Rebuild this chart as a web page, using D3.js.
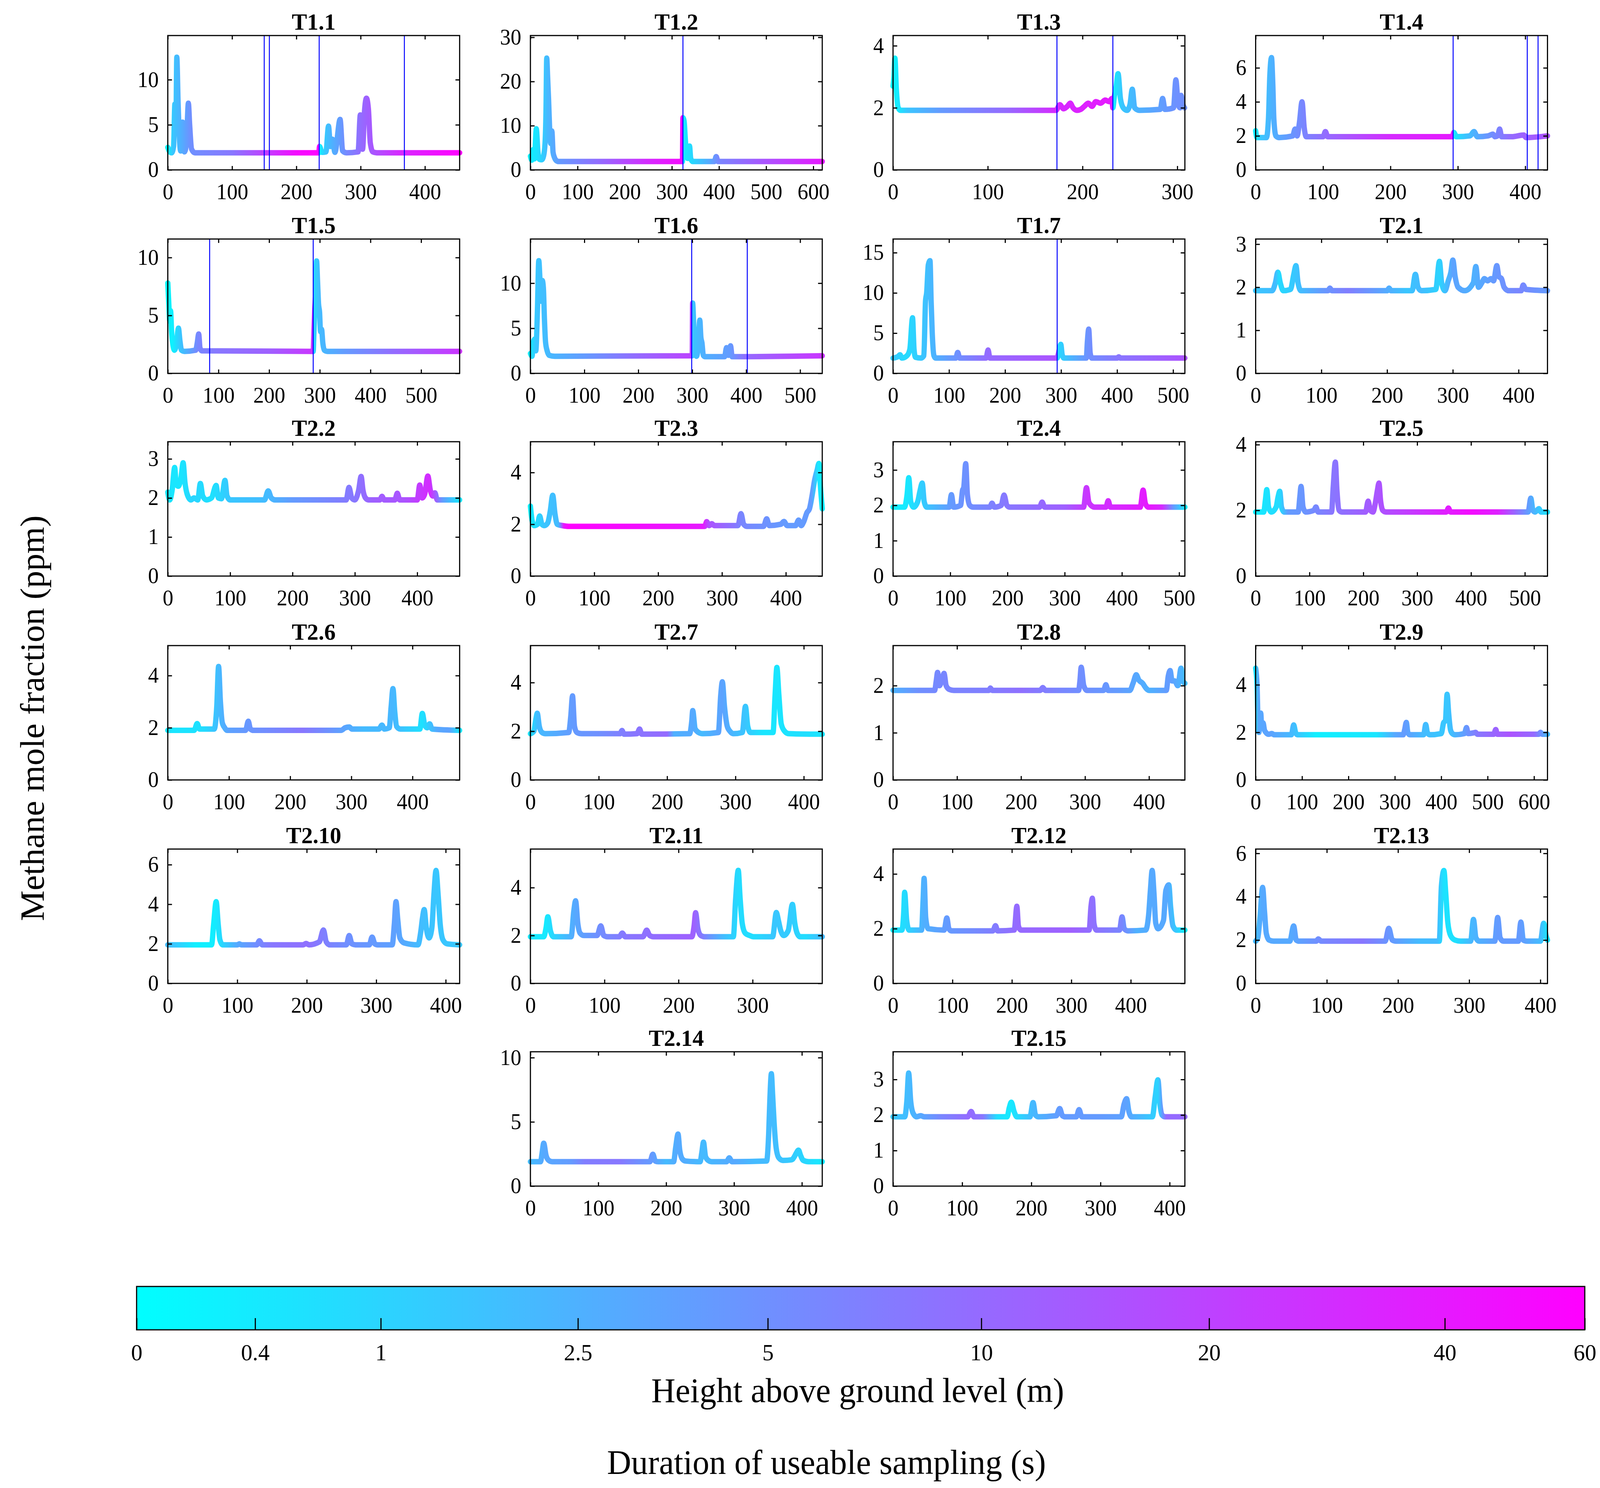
<!DOCTYPE html>
<html>
<head>
<meta charset="utf-8">
<script src="https://cdn.jsdelivr.net/npm/d3@7"></script>
<style>
  html, body { margin: 0; padding: 0; background: #fff; overflow: hidden; }
  svg { display: block; }
  text { font-family: "Liberation Serif", "Times New Roman", serif; fill: #000; }
</style>
</head>
<body>
<script>
// titels van de 22 metingen
const panelNames = ['T1.1', 'T1.2', 'T1.3', 'T1.4', 'T1.5', 'T1.6', 'T1.7',
    'T2.1', 'T2.2', 'T2.3', 'T2.4', 'T2.5', 'T2.6', 'T2.7', 'T2.8', 'T2.9',
    'T2.10', 'T2.11', 'T2.12', 'T2.13', 'T2.14', 'T2.15'];

// bereik van de assen (s en ppm)
const xMax = [454, 619, 308, 433, 576, 541, 521, 444, 468, 457, 510, 542, 477, 427, 456, 629, 420, 394, 491, 410, 430, 422];
const yMax = [14.9, 30.4, 4.33, 7.9, 11.6, 14.9, 16.7, 3.12, 3.44, 5.19, 3.8, 4.09, 5.15, 5.52, 2.85, 5.65, 6.79, 5.61, 4.91, 6.2, 10.46, 3.78];
const yStep = [5, 10, 2, 2, 5, 5, 5, 1, 1, 2, 1, 2, 2, 2, 1, 2, 2, 2, 2, 2, 5, 1];

// blauwe verticale lijnen (s)
const markerLines = [[150, 158, 235.5, 368], [323.5], [173, 232], [293, 403, 419], [82.6, 287], [299, 402], [293],
    [], [], [], [], [], [], [], [], [], [], [], [], [], [], []];

// methaan (ppm) tegen tijd (s)
const ppmSeries = [
    [[0,2.5],[3,2.0],[6,1.9],[9,2.6],[11,7.3],[12.5,4.2],[14,12.5],[16,7.5],[18,3.6],[20,2.1],[23,5.3],[26,2.0],[29,3.0],[32,7.4],[34,5.0],[37,2.3],[42,1.9],[235,1.9],[236,2.6],[240,1.95],[246,2.0],[250,4.85],[253,2.6],[256,3.4],[260,1.95],[268,5.6],[272,2.1],[278,1.9],[296,2.0],[299.5,6.1],[303,2.3],[306,6.5],[309,7.95],[312,6.8],[315,3.0],[319,2.0],[325,1.9],[454,1.9]],
    [[0,3.1],[3,2.2],[6,4.6],[8.5,2.5],[12.5,9.3],[16,4],[19,2.4],[24,2.3],[28,3.2],[31,6],[33,13],[34.6,25.3],[36.5,21],[38.5,16],[40.5,10],[43,6],[45.5,8.8],[48,4],[51,2.8],[55,2.1],[60,1.9],[322.5,1.9],[323.5,11.8],[326,11],[328.5,7],[331,3.5],[333.5,2.6],[336,4],[337.5,5.4],[340,2.6],[344,1.9],[390,1.9],[394,3.0],[398,1.9],[619,1.9]],
    [[0,2.7],[1,3.0],[2,3.6],[3.5,2.6],[5.5,2.0],[8,1.92],[172,1.92],[176,2.1],[180,1.97],[184,2.05],[187,2.15],[190,2.0],[194,1.92],[198,1.95],[202,2.05],[206,2.15],[210,2.05],[214,2.2],[219,2.15],[224,2.25],[228,2.2],[231,2.3],[232,2.0],[233.5,2.35],[235.5,2.7],[237.5,3.1],[240,2.3],[243,2.0],[247,1.92],[250,2.1],[252.5,2.6],[255,2.0],[260,1.92],[282,1.95],[284.5,2.3],[287,1.95],[296,2.0],[298.5,2.9],[301,2.1],[303,2.0],[304,2.4],[306,2.1],[307.7,2.0]],
    [[0,2.3],[2,1.9],[16,1.9],[19,3],[21,5.5],[23.5,6.6],[25.5,5],[27,3],[30,2.0],[35,1.9],[55,2.0],[58.5,2.4],[61.5,2.0],[65,2.8],[68.8,4.0],[72,2.5],[75,1.95],[100,1.95],[103.5,2.25],[107,1.95],[292,1.95],[294,2.2],[298,1.95],[318,2.0],[324,2.25],[329,1.95],[345,2.0],[352,2.1],[355,1.95],[359,2.0],[362,2.4],[365,1.95],[380,1.95],[398,2.05],[401,1.9],[433,2.0]],
    [[0,7.8],[2,6],[4,4.5],[5.5,5.4],[7.5,3.6],[10,2.5],[13,2.0],[17,2.5],[21,3.9],[24,2.8],[27,2.0],[33,1.9],[55,2.0],[58,2.6],[61,3.4],[63.5,2.2],[67,1.95],[287,1.9],[288,3.0],[290,5.5],[292,7],[293.7,9.7],[295.5,8],[297.5,6],[299.5,5.3],[301.5,3.6],[303.5,3.8],[306,2.6],[309,2.0],[315,1.9],[576,1.9]],
    [[0,2.2],[3,1.9],[5.5,3.5],[8,3.8],[10,2.5],[13,7],[15.5,12.5],[18,10],[20,8],[22,10.3],[24,9.5],[26,6],[28,3.5],[31,2.5],[35,2.0],[45,1.9],[300,1.95],[300.7,7.8],[303,5],[305.5,2.5],[308,1.9],[311,3],[314,5.9],[316,4],[318,3.4],[320.5,2],[324,1.85],[360,1.85],[363.5,2.85],[367,2.0],[371,3.05],[374,1.85],[541,1.95]],
    [[0,1.9],[9,2.1],[12.5,2.3],[16,1.9],[25,2.2],[30,3],[34.8,6.9],[37.5,3],[40,2],[50,1.9],[55,2.2],[58,9],[60,10],[63,13.5],[66,14],[68,9],[70,5],[73,2.2],[76,1.9],[112,1.9],[115.5,2.6],[119,1.9],[166,1.9],[169.7,2.9],[173,1.9],[293,1.9],[295,2.4],[299.5,3.6],[302,2.3],[305,1.9],[345,1.9],[347,4],[349.3,5.5],[352,2.5],[355,1.9],[400,1.9],[403,2.05],[406,1.9],[521,1.9]],
    [[0,1.92],[25,1.92],[30,2.1],[33.8,2.35],[37.5,2.1],[42,1.92],[53,1.95],[58,2.3],[61.3,2.5],[64.5,2.1],[69,1.92],[110,1.92],[113,1.98],[116,1.92],[200,1.92],[203,1.98],[206,1.92],[238,1.92],[243,2.3],[247,2.0],[252,1.92],[274,1.95],[279.6,2.6],[283,2.1],[288,1.92],[293,2.15],[297,2.35],[300,2.63],[303.5,2.25],[308,2.0],[318,1.92],[331,2.1],[335,2.48],[339,2.0],[344,2.1],[348,2.2],[353,2.15],[358,2.2],[362,2.15],[366.9,2.5],[370,2.25],[374,2.2],[378,2.0],[385,1.92],[404,1.92],[407,2.05],[411,1.95],[444,1.92]],
    [[0,2.15],[3,1.95],[7,2.2],[11,2.78],[13.5,2.35],[17,2.3],[21,2.5],[24.6,2.9],[27.5,2.4],[31,2.1],[37,1.95],[42,2.0],[48,1.95],[52.2,2.37],[56,2.05],[62,1.95],[70,2.0],[77.5,2.32],[81,2.0],[86,1.98],[91.7,2.45],[95,2.05],[100,1.95],[155,1.95],[161,2.18],[166,2.0],[172,1.95],[286,1.95],[290.6,2.27],[295,2.0],[300,1.95],[306,2.2],[310,2.55],[313,2.2],[317,2.0],[322,1.95],[340,1.95],[343.5,2.04],[347,1.95],[364,1.95],[368,2.12],[372,1.95],[400,1.95],[404,2.33],[408,2.0],[412,2.1],[417,2.56],[421,2.2],[425,2.05],[428.5,2.13],[432,1.95],[468,1.95]],
    [[0,2.7],[3,2.1],[6,1.95],[11,2.0],[14.5,2.32],[18,2.0],[22,1.95],[27,2.05],[31,2.5],[34.9,3.12],[38.5,2.4],[42,2.0],[50,1.95],[60,1.92],[273,1.92],[276,2.1],[280,1.95],[284,2.02],[288,1.95],[325,1.95],[329.7,2.41],[334,2.0],[339,1.92],[365,1.92],[370,2.21],[374,1.95],[392,2.0],[397,2.11],[402,1.95],[415,1.95],[420,2.16],[424,1.95],[428,2.1],[433,2.45],[437,2.6],[441,3.1],[445,3.7],[449,4.1],[451.7,4.35],[454,3.5],[457,2.6]],
    [[0,1.95],[20,1.95],[24.5,2.3],[27.5,2.78],[31,2.1],[36,1.95],[43,2.1],[47,2.4],[51,2.63],[54.5,2.1],[59,1.95],[98,1.95],[102,2.3],[106,1.95],[118,2.0],[121.5,2.43],[123.5,2.5],[127,3.18],[130,2.3],[134,2.0],[140,1.95],[169,1.95],[173,2.06],[177,1.95],[189,2.0],[194,2.29],[199,2.0],[204,1.95],[256,1.95],[260.5,2.09],[265,1.95],[333,1.95],[338,2.5],[342,2.1],[346,2.0],[352,1.95],[372,1.95],[376,2.13],[380,1.95],[432,1.95],[437,2.43],[441,2.05],[446,1.95],[510,1.95]],
    [[0,1.95],[15,1.95],[18,2.3],[20.7,2.63],[24,2.1],[29,1.95],[38,2.1],[41.5,2.4],[44.8,2.58],[48,2.1],[53,1.95],[79,1.95],[82,2.4],[84.3,2.73],[88,2.1],[93,1.95],[108,2.0],[112,2.1],[116,1.95],[141,1.95],[144,2.7],[148,3.47],[151,2.6],[155,2.0],[160,1.95],[204,1.95],[209,2.28],[213,2.0],[218,1.95],[222,2.2],[226,2.6],[229,2.83],[232,2.3],[236,2.0],[242,1.95],[354,1.95],[358,2.07],[362,1.95],[506,1.95],[511,2.37],[515,2.0],[519,1.95],[526,2.05],[530,1.95],[542,1.95]],
    [[0,1.9],[43,1.9],[48,2.16],[52,1.95],[76,1.95],[80,2.8],[83,4.35],[86,3.0],[89,2.2],[93,2.0],[97,1.9],[127,1.9],[131.6,2.25],[135,1.95],[140,1.9],[283,1.9],[290,2.0],[296.6,2.03],[301,1.95],[345,1.95],[350,2.1],[354,1.95],[362,2.0],[365,2.8],[368,3.5],[371,2.6],[374,2.05],[380,1.95],[412,1.95],[416,2.55],[420,2.1],[424,2.0],[428,2.15],[432,1.95],[477,1.9]],
    [[0,1.9],[5,2.0],[8,2.5],[10,2.74],[13,2.2],[17,1.95],[22,1.9],[56,1.95],[59,2.6],[61.6,3.45],[64.5,2.2],[68,1.95],[75,1.9],[131,1.9],[134,2.03],[137,1.88],[156,1.9],[159.7,2.09],[163,1.88],[233,1.9],[236,2.4],[237.5,2.85],[241,2.1],[246,1.95],[252,1.9],[275,1.95],[278.5,3.5],[280.8,4.03],[284,3.0],[288,2.2],[292,2.0],[297,1.9],[310,1.95],[314.6,3.02],[318,2.2],[322,1.95],[355,1.95],[358,3.5],[360.6,4.62],[363.5,3.5],[367,2.3],[372,2.0],[378,1.9],[427,1.88]],
    [[0,1.9],[65,1.9],[67.5,2.1],[69.6,2.28],[72.5,2.0],[76,2.1],[79.7,2.26],[83,2.0],[88,1.92],[95,1.9],[150,1.9],[152,1.95],[155,1.9],[230,1.9],[234,1.96],[238,1.9],[290,1.9],[292,2.1],[294,2.39],[298,2.0],[303,1.9],[329,1.9],[332.6,2.02],[336,1.9],[370,1.9],[375,2.05],[380,2.23],[384,2.12],[390,2.05],[395,1.95],[400,1.9],[427,1.9],[430,2.2],[433,2.32],[436,2.1],[440,2.1],[445,2.0],[450,2.37],[453,2.1],[456,2.05]],
    [[0,4.7],[3,4.0],[5,2.5],[7,2.0],[9,2.4],[11,2.81],[13,2.2],[16,2.4],[19,2.1],[22,2.0],[28,1.92],[35,1.95],[40,1.9],[77,1.9],[82,2.31],[86,2.0],[90,1.9],[318,1.9],[321,2.1],[324.7,2.42],[328,2.0],[332,1.9],[362,1.9],[366.6,2.33],[370,2.0],[375,1.9],[400,1.95],[405,2.4],[409,2.5],[412.6,3.6],[416,2.8],[420,2.1],[424,1.95],[430,1.9],[450,1.95],[454.5,2.2],[458,1.95],[470,1.98],[474,2.0],[478,1.92],[513,1.92],[517.5,2.12],[521,1.92],[610,1.92],[614,2.0],[618,1.92],[629,1.92]],
    [[0,1.95],[63,1.95],[66,3.0],[69.6,4.13],[72.5,3.0],[75,2.2],[79,1.95],[100,1.95],[103,2.0],[106,1.95],[128,1.95],[131.8,2.15],[136,1.95],[195,1.95],[199,2.02],[203,1.95],[218,2.1],[224,2.7],[228,2.1],[233,1.95],[257,1.95],[261,2.42],[265,2.0],[270,1.95],[290,1.95],[294,2.34],[298,2.0],[302,1.95],[323,1.95],[326,3.0],[328.4,4.13],[331,3.2],[334,2.3],[340,2.05],[360,1.95],[364,2.6],[366.5,3.3],[369,3.73],[372,2.8],[376,2.3],[380,2.8],[383,4.5],[386,5.71],[389,4.5],[392,3.0],[396,2.2],[402,2.0],[420,1.95]],
    [[0,1.95],[18,1.95],[21,2.3],[23.5,2.78],[27,2.2],[31,1.95],[55,1.95],[58.5,3.0],[61,3.45],[64,2.5],[67,2.1],[72,2.0],[90,2.0],[95,2.4],[99,2.0],[104,1.95],[120,1.95],[124,2.1],[128,1.95],[152,1.95],[157,2.22],[161,2.0],[166,1.95],[218,1.95],[221,2.4],[223,2.95],[226,2.3],[230,2.0],[235,1.95],[274,1.95],[277,3.5],[280.6,4.72],[283,3.6],[286,2.5],[290,2.1],[296,2.0],[301,1.95],[327,1.95],[332,2.96],[335,2.6],[338,2.2],[342,2.0],[348,2.2],[353.7,3.3],[357,2.5],[360,2.1],[364,1.95],[394,1.95]],
    [[0,1.95],[15,1.95],[18,2.6],[19.5,3.33],[23,2.3],[27,1.95],[48,1.95],[50.5,3.0],[52.3,3.84],[55,2.4],[59,2.0],[86,1.95],[90.5,2.39],[94,2.0],[98,1.92],[168,1.92],[172.4,2.11],[176,1.92],[204,1.95],[208.3,2.82],[211,2.1],[215,1.95],[330,1.95],[333,2.8],[335.4,3.11],[338,2.2],[342,1.95],[381,1.95],[385.3,2.43],[389,2.0],[395,1.92],[425,1.95],[430,2.5],[433,3.4],[436,4.13],[439,3.3],[442,2.2],[446,2.0],[455,2.3],[459,3.4],[464,3.6],[467,2.8],[471,2.1],[477,1.95],[491,1.95]],
    [[0,1.95],[3,2.1],[6,3.0],[9.8,4.43],[12.5,3.3],[15,2.3],[19,2.0],[25,1.95],[48,1.95],[53.4,2.65],[57,2.0],[61,1.95],[85,1.95],[88,2.05],[92,1.95],[182,1.95],[187,2.54],[192,2.0],[197,1.95],[258,1.95],[261,4.5],[264.5,5.21],[267,4.2],[270,2.8],[274,2.2],[280,2.0],[288,1.95],[302,1.95],[306,2.95],[309.5,2.1],[314,1.95],[336,1.95],[340,3.04],[343.5,2.1],[348,1.95],[369,1.95],[372.6,2.83],[376,2.0],[381,1.95],[400,1.95],[404.6,2.77],[408,2.2],[410,2.0]],
    [[0,1.9],[15,1.9],[17,2.5],[19.6,3.34],[23,2.4],[27,2.0],[32,1.9],[176,1.9],[180.4,2.48],[184,1.95],[188,1.9],[211,1.9],[214,3.0],[217.5,4.05],[220,2.8],[224,2.1],[229,1.95],[250,1.9],[252.5,2.6],[255,3.42],[258,2.3],[262,2.0],[267,1.9],[289,1.9],[293,2.2],[297,1.9],[348,1.95],[351,4],[353,7],[355,8.75],[357,7],[359,5],[362,3],[366,2.2],[372,2.0],[385,2.05],[389,2.3],[392,2.6],[395,2.8],[398,2.4],[402,2.0],[410,1.9],[430,1.9]],
    [[0,1.95],[17,1.95],[20,2.4],[22.6,3.18],[25.5,2.4],[29,2.05],[34,1.95],[40,1.98],[45,1.95],[108,1.95],[113,2.1],[117,1.95],[165,1.95],[168,2.2],[171,2.36],[175,2.1],[179,1.95],[198,1.95],[202.5,2.35],[206,2.0],[210,1.95],[236,1.98],[241,2.18],[245,1.98],[249,1.95],[265,1.95],[269,2.15],[273,1.95],[330,1.95],[334,2.3],[337.7,2.46],[341,2.1],[345,1.95],[375,1.95],[379,2.5],[383,2.99],[386,2.3],[389,2.0],[393,1.95],[422,1.95]]
];

// hoogte boven maaiveld (m) langs de tijd (s), bepaalt de kleur
const heightStops = [
    [[0,0.2],[8,1.5],[20,2.5],[35,5],[100,8],[150,20],[200,50],[235,60],[236,0.2],[245,1.5],[260,3],[280,6],[310,12],[360,30],[454,60]],
    [[0,0.3],[15,0.6],[35,2],[60,4],[150,10],[250,30],[322,50],[323,0.3],[340,0.8],[380,3],[400,6],[500,15],[619,40]],
    [[0,0.2],[5,0.4],[15,1.5],[50,4],[120,10],[172,30],[231,40],[232,0.3],[242,1.5],[260,2.5],[300,5],[308,5]],
    [[0,0.3],[8,1.5],[25,2.5],[60,5],[70,6],[120,12],[200,30],[292,40],[293,0.4],[310,1.5],[340,4],[380,10],[433,15]],
    [[0,0.1],[10,0.3],[25,1.5],[60,6],[100,8],[200,12],[287,25],[288,0.8],[300,2],[350,4],[450,10],[576,25]],
    [[0,0.4],[10,1.5],[30,2],[100,4],[200,10],[299,20],[300,1.5],[320,2.5],[370,4],[402,10],[541,25]],
    [[0,1.5],[20,0.8],[35,1],[65,2],[100,4],[170,10],[292,15],[293,0.8],[320,2.5],[349,5],[400,8],[521,15]],
    [[0,1.5],[30,2],[35,0.8],[60,1.5],[100,4],[140,7],[180,4],[230,1.5],[250,2],[280,1],[300,3.5],[330,2.5],[360,4],[400,6],[444,4]],
    [[0,0.5],[20,0.5],[40,1],[70,0.6],[100,1.5],[160,2],[200,4],[280,7],[300,8],[330,12],[380,15],[420,30],[440,4],[468,0.5]],
    [[0,0.3],[20,1.5],[44,2],[52,40],[60,60],[270,40],[280,15],[320,8],[330,6],[400,4],[440,4],[450,0.5],[457,0.3]],
    [[0,0.3],[20,0.4],[30,0.6],[50,1.2],[100,4],[130,5],[200,8],[300,12],[340,25],[450,40],[470,30],[490,4],[510,0.5]],
    [[0,0.3],[20,0.6],[45,0.8],[60,4],[90,4.5],[140,8],[200,12],[230,15],[300,25],[400,50],[450,35],[500,5],[520,2],[542,0.6]],
    [[0,0.5],[45,0.6],[60,0.8],[83,2],[100,3.5],[180,6],[220,8],[260,5],[320,2],[368,2.2],[400,1],[416,0.6],[440,3],[460,3.5],[477,0.5]],
    [[0,0.6],[10,2],[40,3],[61,4],[100,5],[150,8],[200,10],[210,2.5],[238,3],[250,2],[280,3.5],[300,2],[315,1.5],[340,0.5],[360,0.5],[400,0.7],[427,0.5]],
    [[0,2.5],[40,5],[80,6],[150,7],[200,9],[260,6],[300,5],[350,4],[400,2.5],[430,4],[456,2]],
    [[0,0.6],[5,3],[30,3.5],[80,2],[130,0.3],[260,0.5],[300,3],[320,4],[360,2],[400,1.5],[415,1.5],[440,3],[480,8],[550,15],[600,10],[629,2]],
    [[0,2],[40,0.3],[62,0.3],[69,0.4],[100,3],[150,8],[200,9],[222,7],[260,5],[300,4],[330,3.5],[360,2],[386,1.5],[420,1.5]],
    [[0,0.5],[20,0.4],[40,1.5],[60,3],[90,5],[130,8],[180,10],[220,12],[240,5],[260,2],[280,0.8],[300,0.7],[330,1.5],[354,1.2],[370,0.7],[394,2]],
    [[0,0.5],[20,0.8],[50,2.5],[90,4],[150,6],[210,10],[300,12],[335,9],[385,6],[410,2.5],[436,3],[462,3],[480,1],[491,0.4]],
    [[0,2],[9,3],[50,3],[100,6],[150,8],[180,5],[230,2],[255,2],[264,0.6],[280,0.6],[300,2],[340,4],[372,4],[400,2],[410,0.5]],
    [[0,2],[20,3],[60,4],[80,7],[130,8],[160,5],[180,4],[200,2],[217,3],[255,2],[300,3],[330,2],[355,2],[400,1],[430,0.4]],
    [[0,1.5],[23,2],[40,3],[70,6],[110,10],[130,8],[150,0.7],[170,0.4],[200,2],[240,4],[300,4],[337,3.5],[360,2],[383,1],[395,10],[422,10]]
];

// labels op de kleurenbalk (m)
const cbTicks = [0, 0.4, 1, 2.5, 5, 10, 20, 40, 60];


// --- d3 ---
const W = 4205, H = 3810;
// viewBox zodat de hele figuur altijd in het venster past
const svg = d3.select('body').append('svg')
    .attr('viewBox', `0 0 ${W} ${H}`)
    .attr('preserveAspectRatio', 'none')
    .style('width', '100vw')
    .style('height', '100vh');
const defs = svg.append('defs');

// kleurschaal: cool colormap op log(1 + h)
const hScale = d3.scaleSymlog().constant(1).domain([0, 60]).range([0, 1]);
const cool = d3.interpolateRgb('#00ffff', '#ff00ff');
const colour = h => cool(hScale(h));

// plek van elk paneel
const colLeft = [441, 1394, 2347, 3300];
const rowTop = [91, 612, 1131, 1653, 2174, 2693];
const pw = 767, ph = 344;
function slot(i) {
    if (i < 20) return [colLeft[i % 4], rowTop[Math.floor(i / 4)]];
    return [colLeft[i - 19], rowTop[5]];
}

function styleAxis(sel, size) {
    sel.select('.domain').remove();
    sel.selectAll('.tick line').attr('stroke', '#000').attr('stroke-width', 3);
    sel.selectAll('.tick text').attr('font-size', size).attr('fill', '#000')
        .attr('font-family', '"Liberation Serif", "Times New Roman", serif');
}

panelNames.forEach((name, i) => {
    const [px, py] = slot(i);
    const x = d3.scaleLinear().domain([0, xMax[i]]).range([0, pw]);
    const y = d3.scaleLinear().domain([0, yMax[i]]).range([ph, 0]);
    const g = svg.append('g').attr('transform', `translate(${px},${py})`);

    // kleurverloop langs de tijd-as
    const grad = defs.append('linearGradient')
        .attr('id', 'grad' + i)
        .attr('gradientUnits', 'userSpaceOnUse')
        .attr('x1', 0).attr('x2', pw).attr('y1', 0).attr('y2', 0);
    grad.selectAll('stop')
        .data(heightStops[i])
        .join('stop')
        .attr('offset', d => Math.max(0, Math.min(1, x(d[0]) / pw)))
        .attr('stop-color', d => colour(d[1]));

    const line = d3.line()
        .x(d => x(d[0]))
        .y(d => y(d[1]))
        .curve(d3.curveMonotoneX);

    g.append('path')
        .datum(ppmSeries[i])
        .attr('d', line)
        .attr('fill', 'none')
        .attr('stroke', `url(#grad${i})`)
        .attr('stroke-width', 14)
        .attr('stroke-linejoin', 'round')
        .attr('stroke-linecap', 'round');

    g.selectAll('line.mark')
        .data(markerLines[i])
        .join('line')
        .attr('class', 'mark')
        .attr('x1', d => x(d)).attr('x2', d => x(d))
        .attr('y1', 0).attr('y2', ph)
        .attr('stroke', '#0000ff')
        .attr('stroke-width', 2.5);

    const xt = d3.range(0, xMax[i] + 1e-9, 100);
    const yt = d3.range(0, yMax[i] + 1e-9, yStep[i]);

    g.append('g').attr('transform', `translate(0,${ph})`)
        .call(d3.axisBottom(x).tickValues(xt).tickSize(-10).tickPadding(35).tickFormat(d3.format('d')))
        .call(s => styleAxis(s, 56));
    g.append('g')
        .call(d3.axisTop(x).tickValues(xt).tickSize(-10).tickFormat(''))
        .call(s => styleAxis(s, 56));
    g.append('g')
        .call(d3.axisLeft(y).tickValues(yt).tickSize(-11).tickPadding(24).tickFormat(d3.format('d')))
        .call(s => styleAxis(s, 56));
    g.append('g').attr('transform', `translate(${pw},0)`)
        .call(d3.axisRight(y).tickValues(yt).tickSize(-11).tickFormat(''))
        .call(s => styleAxis(s, 56));

    g.append('rect')
        .attr('width', pw).attr('height', ph)
        .attr('fill', 'none')
        .attr('stroke', '#000')
        .attr('stroke-width', 3);

    g.append('text')
        .attr('x', pw / 2)
        .attr('y', -15)
        .attr('text-anchor', 'middle')
        .attr('font-weight', 'bold')
        .attr('font-size', 60)
        .text(name);
});

// kleurenbalk
const cbX = d3.scaleSymlog().constant(1).domain([0, 60]).range([359, 4165]);
const cbTop = 3294, cbH = 111;
const cbGrad = defs.append('linearGradient')
    .attr('id', 'cbgrad')
    .attr('gradientUnits', 'userSpaceOnUse')
    .attr('x1', cbX(0)).attr('x2', cbX(60)).attr('y1', 0).attr('y2', 0);
cbGrad.selectAll('stop')
    .data(cbTicks)
    .join('stop')
    .attr('offset', d => (cbX(d) - cbX(0)) / (cbX(60) - cbX(0)))
    .attr('stop-color', d => colour(d));

svg.append('rect')
    .attr('x', cbX(0)).attr('y', cbTop)
    .attr('width', cbX(60) - cbX(0)).attr('height', cbH)
    .attr('fill', 'url(#cbgrad)');

svg.append('g').attr('transform', `translate(0,${cbTop + cbH})`)
    .call(d3.axisBottom(cbX).tickValues(cbTicks).tickSize(-30).tickPadding(35).tickFormat(d => d))
    .call(s => styleAxis(s, 60));

svg.append('rect')
    .attr('x', cbX(0)).attr('y', cbTop)
    .attr('width', cbX(60) - cbX(0)).attr('height', cbH)
    .attr('fill', 'none')
    .attr('stroke', '#000')
    .attr('stroke-width', 3);

// as-titels
svg.append('text')
    .attr('x', 2254).attr('y', 3590)
    .attr('text-anchor', 'middle')
    .attr('font-size', 88)
    .text('Height above ground level (m)');

svg.append('text')
    .attr('x', 2172).attr('y', 3774)
    .attr('text-anchor', 'middle')
    .attr('font-size', 88)
    .text('Duration of useable sampling (s)');

svg.append('text')
    .attr('transform', 'translate(115,1839) rotate(-90)')
    .attr('text-anchor', 'middle')
    .attr('font-size', 88)
    .text('Methane mole fraction (ppm)');
</script>
</body>
</html>
